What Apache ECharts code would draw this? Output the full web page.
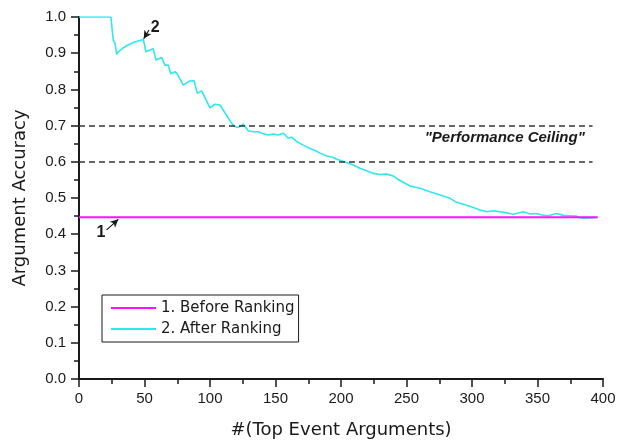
<!DOCTYPE html>
<html>
<head>
<meta charset="utf-8">
<script src="https://cdn.jsdelivr.net/npm/echarts@6/dist/echarts.min.js"></script>
<style>
  html, body { margin: 0; padding: 0; background: #fff; }
  #chart { width: 620px; height: 440px; }
</style>
</head>
<body>
<div id="chart"></div>
<script>
// before ranking: flat baseline
const beforeX = [0, 396];
const beforeY = [0.447, 0.447];

// after ranking
const afterX = [0, 24.4, 25.4, 26.2, 27.5, 28.8, 30, 33, 37, 42, 49.1,
  51.1, 54.2, 56.7, 58.8, 63.1, 65.6, 68.2, 70.0, 73.3, 75.0, 79.6, 84.2, 87.8,
  90.3, 93.6, 100, 103.8, 107.6, 116.5, 119.1, 121.6, 125.4, 126.7, 129.2,
  133.1, 136.9, 139.4, 144.5, 148.3, 152.1, 156.0, 159.8, 162.4, 166.2, 171.2,
  176.3, 180.2, 184.0, 189.1, 194.1, 196.7, 204.3, 209.4, 214.5, 219.6, 224.7,
  229.8, 234.9, 239.9, 243.8, 252.7, 260.3, 267.9, 275.6, 283.2, 288.3, 293.4,
  301.0, 306.1, 311.2, 316.3, 321.4, 326.5, 331.5, 334.1, 339.2, 344.3, 349.4,
  353.2, 358.2, 364.6, 369.7, 374.8, 379.9, 382.4, 387.6, 395.2];
const afterY = [1.0, 1.0, 0.962, 0.936, 0.927, 0.897, 0.903, 0.913, 0.922, 0.930, 0.938,
  0.904, 0.909, 0.912, 0.881, 0.888, 0.867, 0.867, 0.843, 0.849, 0.843, 0.812, 0.823, 0.824,
  0.789, 0.796, 0.749, 0.759, 0.757, 0.706, 0.697, 0.695, 0.704, 0.699, 0.686,
  0.683, 0.683, 0.679, 0.674, 0.677, 0.674, 0.679, 0.665, 0.668, 0.656, 0.646,
  0.637, 0.631, 0.624, 0.616, 0.612, 0.607, 0.598, 0.591, 0.582, 0.575, 0.568,
  0.565, 0.566, 0.561, 0.551, 0.533, 0.527, 0.517, 0.508, 0.499, 0.488, 0.483,
  0.474, 0.467, 0.462, 0.465, 0.462, 0.459, 0.455, 0.457, 0.462, 0.456, 0.457,
  0.453, 0.451, 0.457, 0.452, 0.451, 0.450, 0.445, 0.444, 0.446];

// dashed "performance ceiling" band
const ceilingLevels = [0.7, 0.6];
const ceilingRange = [0, 392];

const seriesNames = ['1. Before Ranking', '2. After Ranking'];

const chart = echarts.init(document.getElementById('chart'));
const font = 'Liberation Sans, Arial, sans-serif';
const wide = 'DejaVu Sans, sans-serif';
const ink = '#1a1a1a';

chart.setOption({
  animation: false,
  backgroundColor: '#fff',
  textStyle: { fontFamily: font },
  grid: { left: 79, right: 17, top: 17, bottom: 61, outerBoundsMode: 'none', containLabel: false },
  legend: {
    data: seriesNames,
    orient: 'vertical',
    left: 102,
    top: 295,
    padding: [5, 4, 5, 9],
    icon: 'rect',
    itemWidth: 45,
    itemHeight: 2,
    itemGap: 5,
    borderColor: ink,
    borderWidth: 1,
    textStyle: { color: ink, fontSize: 15, lineHeight: 16, fontFamily: wide }
  },
  xAxis: {
    type: 'value',
    min: 0,
    max: 400,
    interval: 50,
    name: '#(Top Event Arguments)',
    nameLocation: 'middle',
    nameGap: 42,
    nameTextStyle: { color: ink, fontSize: 18, fontFamily: wide },
    axisLine: { lineStyle: { color: ink, width: 2 } },
    axisTick: { length: 8, lineStyle: { color: ink, width: 1.5 } },
    minorTick: { show: true, splitNumber: 2, length: 5, lineStyle: { color: ink, width: 1.5 } },
    axisLabel: { color: ink, fontSize: 15, margin: 12 },
    splitLine: { show: false }
  },
  yAxis: {
    type: 'value',
    min: 0,
    max: 1,
    interval: 0.1,
    name: 'Argument Accuracy',
    nameLocation: 'middle',
    nameGap: 50,
    nameTextStyle: { color: ink, fontSize: 18, fontFamily: wide },
    axisLine: { lineStyle: { color: ink, width: 2 } },
    axisTick: { length: 8, lineStyle: { color: ink, width: 1.5 } },
    minorTick: { show: true, splitNumber: 2, length: 5, lineStyle: { color: ink, width: 1.5 } },
    axisLabel: { color: ink, fontSize: 15, margin: 13, formatter: (v) => v.toFixed(1) },
    splitLine: { show: false }
  },
  series: [
    {
      name: seriesNames[0],
      type: 'line',
      symbol: 'none',
      lineStyle: { color: '#ff10ff', width: 2 },
      itemStyle: { color: '#ff10ff' },
      data: beforeX.map((x, i) => [x, beforeY[i]]),
      z: 3,
      markLine: {
        silent: true,
        symbol: ['none', 'none'],
        label: { show: false },
        lineStyle: { color: '#333', width: 1.5, type: [6, 4] },
        data: ceilingLevels.map((v) => [
          { coord: [ceilingRange[0], v] },
          { coord: [ceilingRange[1], v] }
        ])
      },
      markPoint: {
        silent: true,
        symbol: 'circle',
        symbolSize: 1,
        itemStyle: { color: 'transparent' },
        label: {
          show: true,
          color: ink,
          fontFamily: font,
          fontWeight: 'bold'
        },
        data: [
          { coord: [325, 0.666], label: { formatter: '"Performance Ceiling"', fontStyle: 'italic', fontSize: 15 } },
          { coord: [16.8, 0.405], label: { formatter: '1', fontSize: 16 } },
          { coord: [58.2, 0.972], label: { formatter: '2', fontSize: 16 } }
        ]
      }
    },
    {
      name: seriesNames[1],
      type: 'line',
      symbol: 'none',
      lineStyle: { color: '#2ee8f0', width: 1.6 },
      itemStyle: { color: '#2ee8f0' },
      data: afterX.map((x, i) => [x, afterY[i]]),
      z: 2,
      markLine: {
        silent: true,
        symbol: ['none', 'arrow'],
        symbolSize: [6, 8],
        label: { show: false },
        lineStyle: { color: ink, width: 1.2, type: 'solid' },
        data: [
          [{ coord: [21.1, 0.412] }, { coord: [30.0, 0.441] }],
          [{ coord: [53.4, 0.964] }, { coord: [49.4, 0.940] }]
        ]
      }
    }
  ]
});
</script>
</body>
</html>
